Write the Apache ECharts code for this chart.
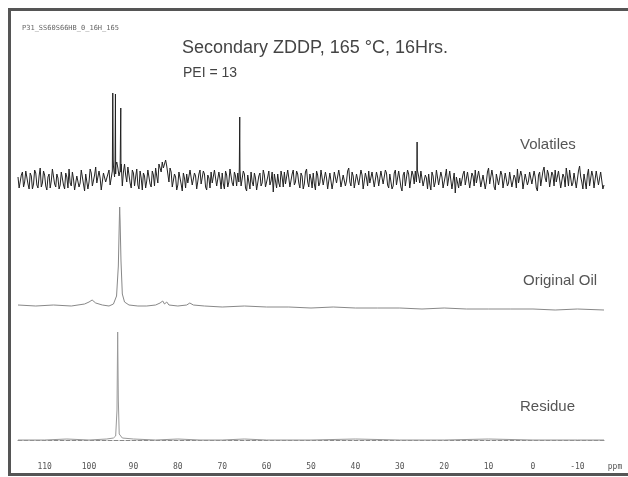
<!DOCTYPE html>
<html>
<head>
<meta charset="utf-8">
<script src="https://cdn.jsdelivr.net/npm/echarts@6/dist/echarts.min.js"></script>
<style>
  html, body { margin: 0; padding: 0; background: #fff; }
  #container { width: 628px; height: 477px; }
</style>
</head>
<body>
<div id="container"></div>
<script>
// ppm scale labels on the bottom axis
var ppmTicks = [110, 100, 90, 80, 70, 60, 50, 40, 30, 20, 10, 0, -10];

// Volatiles: noisy baseline, sampled every 0.5 ppm from 116 down to -16
var volStart = 116, volStep = 0.5;
var volNoise = [
  3, -6, 8, -2, 10, -9, 4, -4, 7, -8, 12, -3, 5, -10, 6, -1, 9, -7, 2, -5,
  8, -9, 3, 11, -6, 1, -8, 6, -3, 9, -11, 4, -2, 7, -7, 13, -5, 2, -9, 5,
  -4, 10, -3, 14, 6, 12, 9, -6, 16, -2, 11, -8, 7, 3, -5, 9, -10, 4, -1, 8,
  -7, 5, 12, -3, 15, 18, 10, 14, -2, 8, -9, 3, -5, 7, -11, 2, 6, -4, 9, -6,
  4, -8, 10, -3, 6, -10, 2, 8, -5, 11, -7, 1, 7, -9, 5, -2, 9, -6, 4, 7,
  10, -4, 6, -11, 3, 8, -6, 2, -9, 7, -3, 5, -8, 9, -1, -12, 4, 6, -7, 3,
  8, -5, 2, -9, 10, -2, 6, -8, 4, -4, 11, -7, 1, 7, -10, 5, -3, 9, -6, 2,
  -8, 6, -2, 10, -5, 3, -9, 7, -1, 12, -6, 4, -10, 8, -3, 5, -7, 2, 9, -4,
  6, -9, 3, -5, 11, -2, 7, -8, 4, -6, 10, -3, 1, -11, 8, -4, 6, -7, 5, 9,
  12, -3, 7, -8, 2, 6, -10, 4, -2, 9, -6, 3, -9, 11, -4, 7, -1, -13, 5, 2,
  -7, 9, -3, 6, -9, 4, 10, -5, 2, -8, 7, -2, 12, -6, 3, -10, 8, -4, 5, -7,
  9, -3, 6, -9, 2, 11, -5, 4, -8, 7, -1, 10, -6, 3, -11, 8, -4, 13, -2, 6,
  -8, 5, 10, -4, 7, -10, 3, 12, -6, 8, -3, 9, -7, 14, -2, 6, -9, 11, -5, 4,
  -6, 8, -3, 7, -5
];
// the in-between samples, at 115.75, 115.25 ... -15.75 ppm
var volMidStart = 115.75;
var volNoiseMid = [
  -8, 5, -7, 9, -4, 7, -9, 10, -5, 4, -7, 9, -6, 3, -8, 11, -4, 6, -9, 8,
  -5, 7, -8, -3, 8, -10, 4, -7, 10, -4, 6, -9, 11, -6, 5, -3, 9, -10, 7, -2,
  6, -5, 9, 3, 18, 4, 16, 8, 5, 13, -3, 10, -6, 11, -9, 2, 7, -8, 10, -4,
  9, -6, 4, 16, 8, 12, 20, 6, 12, -7, 6, -10, 8, -4, 7, -8, -3, 10, -5, 7,
  -9, 6, -4, 9, -7, 5, -8, -3, 10, -6, 8, -9, -4, 9, -7, 11, -3, 8, -6, -2,
  -6, 9, -8, 5, -9, -2, 7, -10, 4, -6, 10, -7, 3, -5, 8, 6, -8, -3, 9, -7,
  -4, 10, -7, 6, -5, 9, -3, 7, -9, 8, -2, 6, -8, -4, 9, -6, 10, -5, 8, -9,
  7, -9, 8, -3, 10, -7, 5, -6, 9, -2, 8, -8, 6, -5, 10, -9, 7, -6, -3, 8,
  -7, 8, -6, 9, -4, 10, -5, 6, -9, 7, -5, 9, -7, 5, -6, 10, -8, 9, -4, -2,
  4, 9, -6, 5, -9, -4, 8, -7, 10, -5, 8, -8, 4, -6, 9, -9, 7, 3, -8, -6,
  6, -5, 8, -8, 7, -6, -3, 9, -7, 5, -9, 8, -4, 10, -7, 6, -5, 9, -8, 7,
  -6, 8, -7, 5, -8, -3, 9, -9, 6, -5, 8, -4, 9, -8, 5, -6, 9, 2, 10, -7,
  8, -6, -2, 9, -8, 6, -7, 4, 10, -6, 7, -8, 9, 3, -9, 8, 5, -6, 9, -8,
  9, -5, 8, -9
];
// sharp lines in the volatiles trace [ppm, intensity]
var volPeaks = [
  [94.75, 10], [94.65, 87], [94.55, 20],
  [94.15, 15], [94.05, 86], [93.95, 15],
  [92.95, 10], [92.85, 72], [92.8, 8],
  [66.15, 12], [66.05, 63], [65.95, 10],
  [26.15, 8], [26.1, 38], [26.05, 10]
];

// Original oil [ppm, intensity]
var oilTrace = [
  [116, 1], [112, 0], [108, 1], [104, 0], [101, 2], [100, 4], [99.3, 6], [98.5, 3],
  [97, 1], [95.5, 0], [94.5, 2], [93.8, 10], [93.4, 40], [93.2, 80], [93.1, 99],
  [93.0, 85], [92.8, 45], [92.5, 12], [92, 4], [91, 1], [89, 0], [87, 0], [85, 1],
  [84, 3], [83.4, 5], [83.0, 2], [82.5, 4], [82, 1], [80, 0], [78, 1], [77.3, 3],
  [76.5, 1], [74, 0], [70, -1], [65, 0], [60, -1], [55, -1], [50, -2], [45, -1],
  [40, -2], [35, -2], [30, -2], [25, -3], [20, -2], [15, -3], [10, -3], [5, -3],
  [0, -3], [-5, -4], [-10, -3], [-16, -4]
];

// Residue [ppm, intensity]
var residueTrace = [
  [116, 0], [110, 0], [105, 1], [100, 0], [96, 1], [94.5, 2], [94.0, 4], [93.7, 30],
  [93.55, 108], [93.4, 40], [93.2, 6], [92.5, 2], [90, 1], [85, 0], [80, 1], [75, 0],
  [70, 0], [65, 1], [60, 0], [50, 0], [40, 1], [30, 0], [20, 0], [10, 1], [0, 0],
  [-10, 0], [-16, 0]
];

var volData = volNoise.map(function (v, i) { return [volStart - i * volStep, v]; })
  .concat(volNoiseMid.map(function (v, i) { return [volMidStart - i * volStep, v]; }))
  .concat(volPeaks)
  .sort(function (a, b) { return b[0] - a[0]; });

var chartDom = document.getElementById('container');
var myChart = echarts.init(chartDom);

var hiddenX = function (idx) {
  return { type: 'value', gridIndex: idx, inverse: true, min: -16, max: 116, show: false };
};
var hiddenY = function (idx, lo, hi) {
  return { type: 'value', gridIndex: idx, min: lo, max: hi, show: false };
};
var labelFont = '15px "Liberation Sans", Arial, sans-serif';

var option = {
  animation: false,
  backgroundColor: '#fff',
  grid: [
    { left: 18, right: 24, top: 80, height: 120 },
    { left: 18, right: 24, top: 196, height: 120 },
    { left: 18, right: 24, top: 320, height: 135 }
  ],
  xAxis: [
    hiddenX(0),
    hiddenX(1),
    {
      type: 'value', gridIndex: 2, inverse: true, min: -16, max: 116,
      axisLine: { lineStyle: { color: '#888', type: 'dashed' } },
      axisTick: { show: false },
      splitLine: { show: false },
      axisLabel: {
        customValues: ppmTicks,
        fontSize: 8,
        color: '#555',
        margin: 8,
        fontFamily: '"DejaVu Sans Mono", monospace'
      }
    }
  ],
  yAxis: [hiddenY(0, -20, 100), hiddenY(1, -10, 110), hiddenY(2, -15, 120)],
  series: [
    {
      name: 'Volatiles', type: 'line', xAxisIndex: 0, yAxisIndex: 0,
      symbol: 'none', data: volData,
      lineStyle: { color: '#222', width: 1 }
    },
    {
      name: 'Original Oil', type: 'line', xAxisIndex: 1, yAxisIndex: 1,
      symbol: 'none', data: oilTrace,
      lineStyle: { color: '#888', width: 1 }
    },
    {
      name: 'Residue', type: 'line', xAxisIndex: 2, yAxisIndex: 2,
      symbol: 'none', data: residueTrace,
      lineStyle: { color: '#999', width: 1 }
    }
  ],
  graphic: [
    {
      type: 'rect', silent: true,
      shape: { x: 9.5, y: 9.5, width: 640, height: 465 },
      style: { fill: 'none', stroke: '#555', lineWidth: 3 }
    },
    {
      type: 'text', x: 22, y: 28,
      style: { text: 'P31_SS60S66HB_0_16H_165', font: '7px "DejaVu Sans Mono", monospace', fill: '#666', textVerticalAlign: 'middle' }
    },
    {
      type: 'text', x: 182, y: 48,
      style: { text: 'Secondary ZDDP, 165 °C, 16Hrs.', font: '18px "Liberation Sans", Arial, sans-serif', fill: '#444', textVerticalAlign: 'middle' }
    },
    {
      type: 'text', x: 183, y: 73,
      style: { text: 'PEI = 13', font: '14px "Liberation Sans", Arial, sans-serif', fill: '#444', textVerticalAlign: 'middle' }
    },
    {
      type: 'text', x: 520, y: 145,
      style: { text: 'Volatiles', font: labelFont, fill: '#555', textVerticalAlign: 'middle' }
    },
    {
      type: 'text', x: 523, y: 281,
      style: { text: 'Original Oil', font: labelFont, fill: '#555', textVerticalAlign: 'middle' }
    },
    {
      type: 'text', x: 520, y: 407,
      style: { text: 'Residue', font: labelFont, fill: '#555', textVerticalAlign: 'middle' }
    },
    {
      type: 'text', x: 615, y: 467,
      style: { text: 'ppm', font: '8px "DejaVu Sans Mono", monospace', fill: '#555', textAlign: 'center', textVerticalAlign: 'middle' }
    }
  ]
};

option && myChart.setOption(option);
</script>
</body>
</html>
